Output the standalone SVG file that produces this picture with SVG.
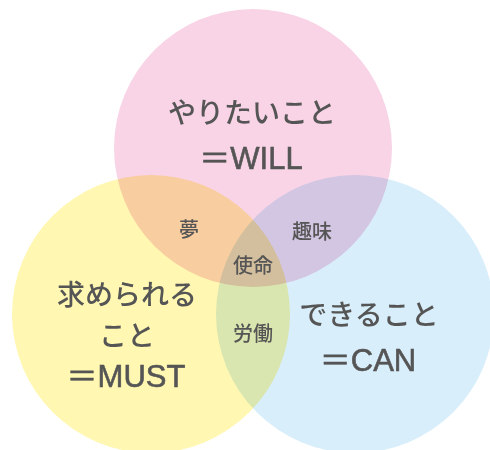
<svg xmlns="http://www.w3.org/2000/svg" width="490" height="450" viewBox="0 0 490 450">
<style>
.c{mix-blend-mode:multiply}
.t{font-family:"Noto Sans CJK JP","Liberation Sans",sans-serif;font-weight:500;fill:#555;text-anchor:middle}
.big{font-size:28px}
.lat{font-family:"Liberation Sans","Noto Sans CJK JP",sans-serif;font-size:31px;font-weight:400;stroke:#555;stroke-width:0.6}
.sm{font-size:20px}
</style>
<rect width="490" height="450" fill="#fff"/>
<g id="nodes" style="isolation:isolate">
<g id="will"><circle class="c" cx="253" cy="148" r="139" fill="#f8d4e6"/></g>
<g id="must"><circle class="c" cx="151" cy="314" r="139" fill="#fff7b2"/></g>
<g id="can"><circle class="c" cx="355" cy="314" r="139" fill="#d9eefb"/></g>
</g>
<g id="labels">
<text class="t big" x="252" y="123">やりたいこと</text>
<text class="t lat" x="251" y="169">＝WILL</text>
<text class="t big" x="127" y="305">求められる</text>
<text class="t big" x="127" y="346">こと</text>
<text class="t lat" x="126" y="387">＝MUST</text>
<text class="t big" x="369" y="325">できること</text>
<text class="t lat" x="368" y="371">＝CAN</text>
<text class="t sm" x="189" y="237">夢</text>
<text class="t sm" x="312" y="239">趣味</text>
<text class="t sm" x="253" y="273">使命</text>
<text class="t sm" x="253" y="341">労働</text>
</g>
<g id="connectors"/>
</svg>
